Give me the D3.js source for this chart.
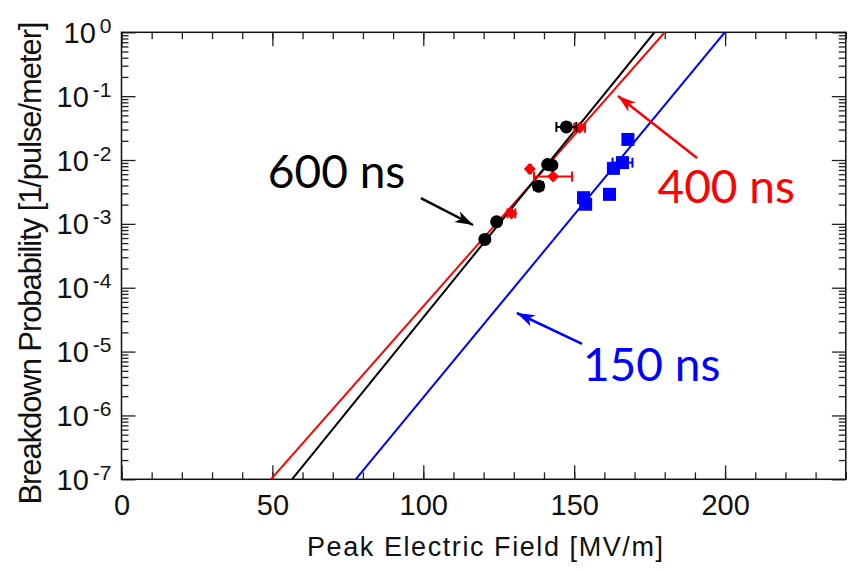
<!DOCTYPE html>
<html>
<head>
<meta charset="utf-8">
<script src="https://cdn.jsdelivr.net/npm/d3@7"></script>
<style>
  body { margin: 0; background: #fff; }
  text { font-family: "Liberation Sans Narrow", "Liberation Sans", Arial, sans-serif; }
  .note { font-family: Lato, "Open Sans", sans-serif; }
</style>
</head>
<body>
<div id="chart"></div>
<script>

var svgWidth = 856;
var svgHeight = 570;

var margin = {
  top: 32.3,
  right: 10.2,
  bottom: 90.7,
  left: 121.5
};

var width = svgWidth - margin.left - margin.right;
var height = svgHeight - margin.top - margin.bottom;

// measured points (field in MV/m, breakdown probability)
var blackE   = [120.4, 124.3, 138.2, 141.2, 142.6, 147.4];
var blackP   = [5.7e-4, 1.08e-3, 3.9e-3, 8.5e-3, 8.3e-3, 3.3e-2];
var blackErr = [0.8, 0.8, 1.5, 0.6, 0.6, 3.3];

var redE   = [129.2, 135.3, 143.0, 151.8];
var redP   = [1.46e-3, 7.2e-3, 5.5e-3, 3.2e-2];
var redErr = [1.3, 0.4, 6.3, 1.8];

var blueE   = [153.1, 153.8, 161.7, 163.0, 166.0, 167.8];
var blueP   = [2.57e-3, 2.03e-3, 2.9e-3, 7.4e-3, 9.1e-3, 2.1e-2];
var blueErr = [0.4, 0.4, 0.4, 0.6, 3.3, 0.4];

// fit lines (end points)
var fitBlack = [[56.5, 1e-7], [176.6, 1]];
var fitRed   = [[49.5, 1e-7], [180.0, 1]];
var fitBlue  = [[77.6, 1e-7], [199.9, 1]];

// axis ticks
var xMajor = [0, 50, 100, 150, 200];
var xMinor = d3.range(0, 241, 10);
var yExp = [0, -1, -2, -3, -4, -5, -6, -7];

// annotations
var labels = [
  {text: "600 ns", e: 48.5, p: 3.65e-3, color: "#000"},
  {text: "400 ns", e: 177.6, p: 2.14e-3, color: "#ff0000"},
  {text: "150 ns", e: 152.9, p: 3.47e-6, color: "#0000ff"}
];
var arrows = [
  {from: [99.2, 2.54e-3], to: [116.5, 9.6e-4], color: "#000", id: "ab"},
  {from: [190.7, 1.076e-2], to: [164.5, 0.1005], color: "#ff0000", id: "ar"},
  {from: [152.6, 1.32e-5], to: [131.0, 4.02e-5], color: "#0000ff", id: "au"}
];

var svg = d3
  .select("#chart")
  .append("svg")
  .attr("width", svgWidth)
  .attr("height", svgHeight);

var chartGroup = svg.append("g")
  .attr("transform", `translate(${margin.left}, ${margin.top})`);

var xScale = d3.scaleLinear().domain([0, 240]).range([0, width]);
var yScale = d3.scaleLog().domain([1e-7, 1]).range([height, 0]);

// minor log ticks
var yMinor = [];
yExp.forEach(function(e) {
  if (e === 0) return;
  for (var k = 2; k <= 9; k++) yMinor.push(k * Math.pow(10, e));
});
var yMajor = yExp.map(e => Math.pow(10, e));

function styleAxis(g) {
  g.select(".domain").remove();
  g.selectAll(".tick line").attr("stroke", "#222").attr("stroke-width", 1.3);
}

// bottom
chartGroup.append("g")
  .attr("transform", `translate(0, ${height})`)
  .call(d3.axisBottom(xScale).tickValues(xMinor).tickSize(-7).tickFormat(""))
  .call(styleAxis);

chartGroup.append("g")
  .attr("transform", `translate(0, ${height})`)
  .call(d3.axisBottom(xScale).tickValues(xMajor).tickSize(-14).tickPadding(15).tickFormat(d3.format("d")))
  .call(styleAxis)
  .selectAll("text")
  .style("font-size", "29px")
  .style("font-family", "'Liberation Sans Narrow', 'Liberation Sans', Arial, sans-serif")
  .attr("fill", "#111");

// top
chartGroup.append("g")
  .call(d3.axisTop(xScale).tickValues(xMinor).tickSize(-7).tickFormat(""))
  .call(styleAxis);
chartGroup.append("g")
  .call(d3.axisTop(xScale).tickValues(xMajor).tickSize(-14).tickFormat(""))
  .call(styleAxis);

// left
chartGroup.append("g")
  .call(d3.axisLeft(yScale).tickValues(yMinor).tickSize(-7).tickFormat(""))
  .call(styleAxis);
chartGroup.append("g")
  .call(d3.axisLeft(yScale).tickValues(yMajor).tickSize(-14).tickFormat(""))
  .call(styleAxis);

// right
chartGroup.append("g")
  .attr("transform", `translate(${width}, 0)`)
  .call(d3.axisRight(yScale).tickValues(yMinor).tickSize(-7).tickFormat(""))
  .call(styleAxis);
chartGroup.append("g")
  .attr("transform", `translate(${width}, 0)`)
  .call(d3.axisRight(yScale).tickValues(yMajor).tickSize(-14).tickFormat(""))
  .call(styleAxis);

// frame
chartGroup.append("rect")
  .attr("width", width)
  .attr("height", height)
  .attr("fill", "none")
  .attr("stroke", "#111")
  .attr("stroke-width", 1.5);

// y tick labels 10^n
var yLab = chartGroup.selectAll(".ylab")
  .data(yExp)
  .enter()
  .append("text")
  .attr("class", "ylab")
  .attr("x", -10)
  .attr("y", d => yScale(Math.pow(10, d)) + 10.5)
  .attr("text-anchor", "end")
  .attr("fill", "#111")
  .style("font-size", "29px");
yLab.append("tspan").text("10");
yLab.append("tspan")
  .attr("dx", 4)
  .attr("dy", -10)
  .style("font-size", "21px")
  .text(d => d === 0 ? "0" : "-" + Math.abs(d));

// axis titles
svg.append("text")
  .attr("x", 485)
  .attr("y", 556)
  .attr("text-anchor", "middle")
  .attr("textLength", 356)
  .style("font-size", "27px")
  .attr("fill", "#111")
  .text("Peak Electric Field [MV/m]");

svg.append("text")
  .attr("transform", "translate(41, 263) rotate(-90)")
  .attr("text-anchor", "middle")
  .attr("textLength", 483)
  .style("font-size", "31px")
  .attr("fill", "#111")
  .text("Breakdown Probability [1/pulse/meter]");

// clip for fit lines
svg.append("defs").append("clipPath")
  .attr("id", "plotclip")
  .append("rect")
  .attr("width", width)
  .attr("height", height);

var line = d3.line()
  .x(d => xScale(d[0]))
  .y(d => yScale(d[1]));

var fits = [[fitRed, "#ff0000"], [fitBlack, "#000"], [fitBlue, "#0000ff"]];
fits.forEach(function(f) {
  chartGroup.append("path")
    .attr("d", line(f[0]))
    .attr("clip-path", "url(#plotclip)")
    .attr("fill", "none")
    .attr("stroke", f[1])
    .attr("stroke-width", 2);
});

// error bars
function errorBars(E, P, err, color) {
  var g = chartGroup.append("g");
  E.forEach(function(e, i) {
    var y = yScale(P[i]);
    var x0 = xScale(e - err[i]);
    var x1 = xScale(e + err[i]);
    g.append("line").attr("x1", x0).attr("x2", x1).attr("y1", y).attr("y2", y)
      .attr("stroke", color).attr("stroke-width", 2);
    [x0, x1].forEach(function(x) {
      g.append("line").attr("x1", x).attr("x2", x).attr("y1", y - 5).attr("y2", y + 5)
        .attr("stroke", color).attr("stroke-width", 2);
    });
  });
}

errorBars(blueE, blueP, blueErr, "#0000ff");
chartGroup.selectAll(".sq")
  .data(blueE)
  .enter()
  .append("rect")
  .attr("x", d => xScale(d) - 6.5)
  .attr("y", (d, i) => yScale(blueP[i]) - 6.5)
  .attr("width", 13)
  .attr("height", 13)
  .attr("fill", "#0000ff");

errorBars(redE, redP, redErr, "#ff0000");
chartGroup.selectAll(".dm")
  .data(redE)
  .enter()
  .append("path")
  .attr("d", "M0,-6L6,0L0,6L-6,0Z")
  .attr("transform", (d, i) => `translate(${xScale(d)}, ${yScale(redP[i])})`)
  .attr("fill", "#ff0000");

errorBars(blackE, blackP, blackErr, "#000");
chartGroup.selectAll(".cr")
  .data(blackE)
  .enter()
  .append("circle")
  .attr("cx", d => xScale(d))
  .attr("cy", (d, i) => yScale(blackP[i]))
  .attr("r", 6.5)
  .attr("fill", "#000");

// arrow heads
var defs = svg.select("defs");
arrows.forEach(function(a) {
  defs.append("marker")
    .attr("id", a.id)
    .attr("viewBox", "0 -8 20 16")
    .attr("refX", 18)
    .attr("refY", 0)
    .attr("markerUnits", "userSpaceOnUse")
    .attr("markerWidth", 20)
    .attr("markerHeight", 16)
    .attr("orient", "auto")
    .append("path")
    .attr("d", "M0,-6L18,0L0,6L5,0Z")
    .attr("fill", a.color);
});

chartGroup.selectAll(".arrow")
  .data(arrows)
  .enter()
  .append("line")
  .attr("x1", d => xScale(d.from[0]))
  .attr("y1", d => yScale(d.from[1]))
  .attr("x2", d => xScale(d.to[0]))
  .attr("y2", d => yScale(d.to[1]))
  .attr("stroke", d => d.color)
  .attr("stroke-width", 2.5)
  .attr("marker-end", d => `url(#${d.id})`);

chartGroup.selectAll(".note")
  .data(labels)
  .enter()
  .append("text")
  .attr("class", "note")
  .attr("x", d => xScale(d.e))
  .attr("y", d => yScale(d.p))
  .attr("fill", d => d.color)
  .style("font-size", "46px")
  .text(d => d.text);

</script>
</body>
</html>
